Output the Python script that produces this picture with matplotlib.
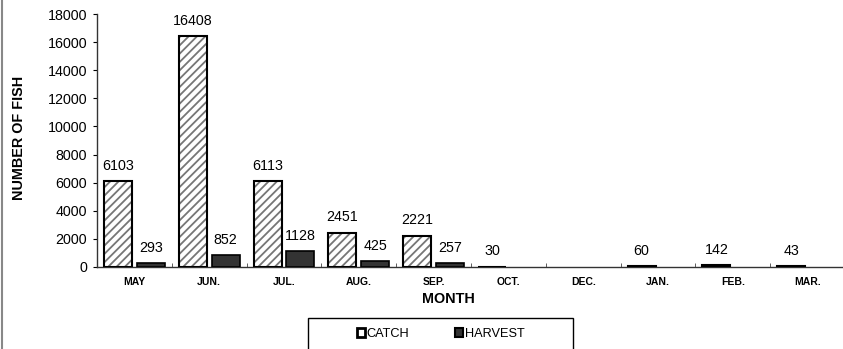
import matplotlib
matplotlib.use("Agg")
import matplotlib.pyplot as plt
from matplotlib.patches import Rectangle, Patch
from matplotlib.lines import Line2D
import numpy as np

plt.rcParams['font.family'] = ['Liberation Sans', 'DejaVu Sans']
plt.rcParams['hatch.linewidth'] = 1.3

months = ["MAY", "JUN.", "JUL.", "AUG.", "SEP.", "OCT.", "DEC.", "JAN.", "FEB.", "MAR."]
catch = [6103, 16408, 6113, 2451, 2221, 30, 0, 60, 142, 43]
harvest = [293, 852, 1128, 425, 257, 0, 0, 0, 0, 0]
yticks = list(range(0, 18001, 2000))

W, H = 843, 349
fig = plt.figure(figsize=(W / 100, H / 100), dpi=100)
ax = fig.add_axes([97 / W, 1 - 267 / H, 748 / W, 253 / H])

x = np.arange(len(months))
bw = 0.375
off = 0.22

cx = np.array([xi - off for xi, v in zip(x, catch) if v > 0])
cv = np.array([v for v in catch if v > 0])
hx = np.array([xi + off for xi, v in zip(x, harvest) if v > 0])
hv = np.array([v for v in harvest if v > 0])

# catch bars: hatched fill + black outline
ax.bar(cx, cv, bw, color='white', edgecolor='#767676', hatch='////', linewidth=0, zorder=2)
ax.bar(cx, cv, bw, facecolor='none', edgecolor='black', linewidth=1.5, zorder=3)
# harvest bars
ax.bar(hx, hv, bw, color='#333333', edgecolor='black', linewidth=1.2, zorder=3)

for xi, v in zip(cx, cv):
    ax.annotate(str(v), (xi, v), xytext=(0, 6), textcoords='offset points',
                ha='center', va='bottom', fontsize=10.3)
for xi, v in zip(hx, hv):
    ax.annotate(str(v), (xi, v), xytext=(0, 6), textcoords='offset points',
                ha='center', va='bottom', fontsize=10.3)

ax.set_xlim(-0.5, len(months) - 0.5)
ax.set_ylim(0, 18000)
ax.set_yticks(yticks)
ax.tick_params(axis='y', direction='out', length=3, labelsize=10.3, pad=4)
ax.set_xticks(x)
ax.set_xticklabels(months, fontsize=7.5, fontweight='bold')
ax.tick_params(axis='x', which='major', length=0, pad=7)
ax.set_xticks(np.arange(-0.5, len(months), 1.0), minor=True)
ax.tick_params(axis='x', which='minor', direction='in', length=3, color='#444444')

for s in ['top', 'right']:
    ax.spines[s].set_visible(False)
ax.spines['left'].set_color('#333333')
ax.spines['bottom'].set_color('#333333')
ax.spines['left'].set_linewidth(1.0)
ax.spines['bottom'].set_linewidth(1.0)

fig.text(19 / W, 1 - 138 / H, "NUMBER OF FISH", rotation=90, ha='center', va='center',
         fontsize=10.4, fontweight='bold')
fig.text(448 / W, 1 - 299 / H, "MONTH", ha='center', va='center', fontsize=10.4, fontweight='bold')

# legend frame (extends past the bottom edge like the reference)
fig.patches.append(Rectangle((308 / W, -0.1), (573 - 308) / W, (1 - 318 / H) + 0.1,
                             transform=fig.transFigure, facecolor='white', edgecolor='black',
                             linewidth=1.0, zorder=1))
handles = [Patch(facecolor='white', edgecolor='black', linewidth=2.0),
           Patch(facecolor='#333333', edgecolor='black', linewidth=1.5)]
leg = fig.legend(handles, ["CATCH", "HARVEST"], loc='center left',
                 bbox_to_anchor=(357 / W, 1 - 334 / H), ncol=2, frameon=False,
                 fontsize=9.2, handlelength=0.6, handleheight=0.6, handletextpad=0.15,
                 columnspacing=3.6, borderpad=0, borderaxespad=0)
leg.set_zorder(5)

# figure left border
fig.add_artist(Line2D([1.5 / W, 1.5 / W], [0, 1], transform=fig.transFigure,
                      color='#888888', linewidth=1.5))

fig.savefig("out.png", dpi=100)
